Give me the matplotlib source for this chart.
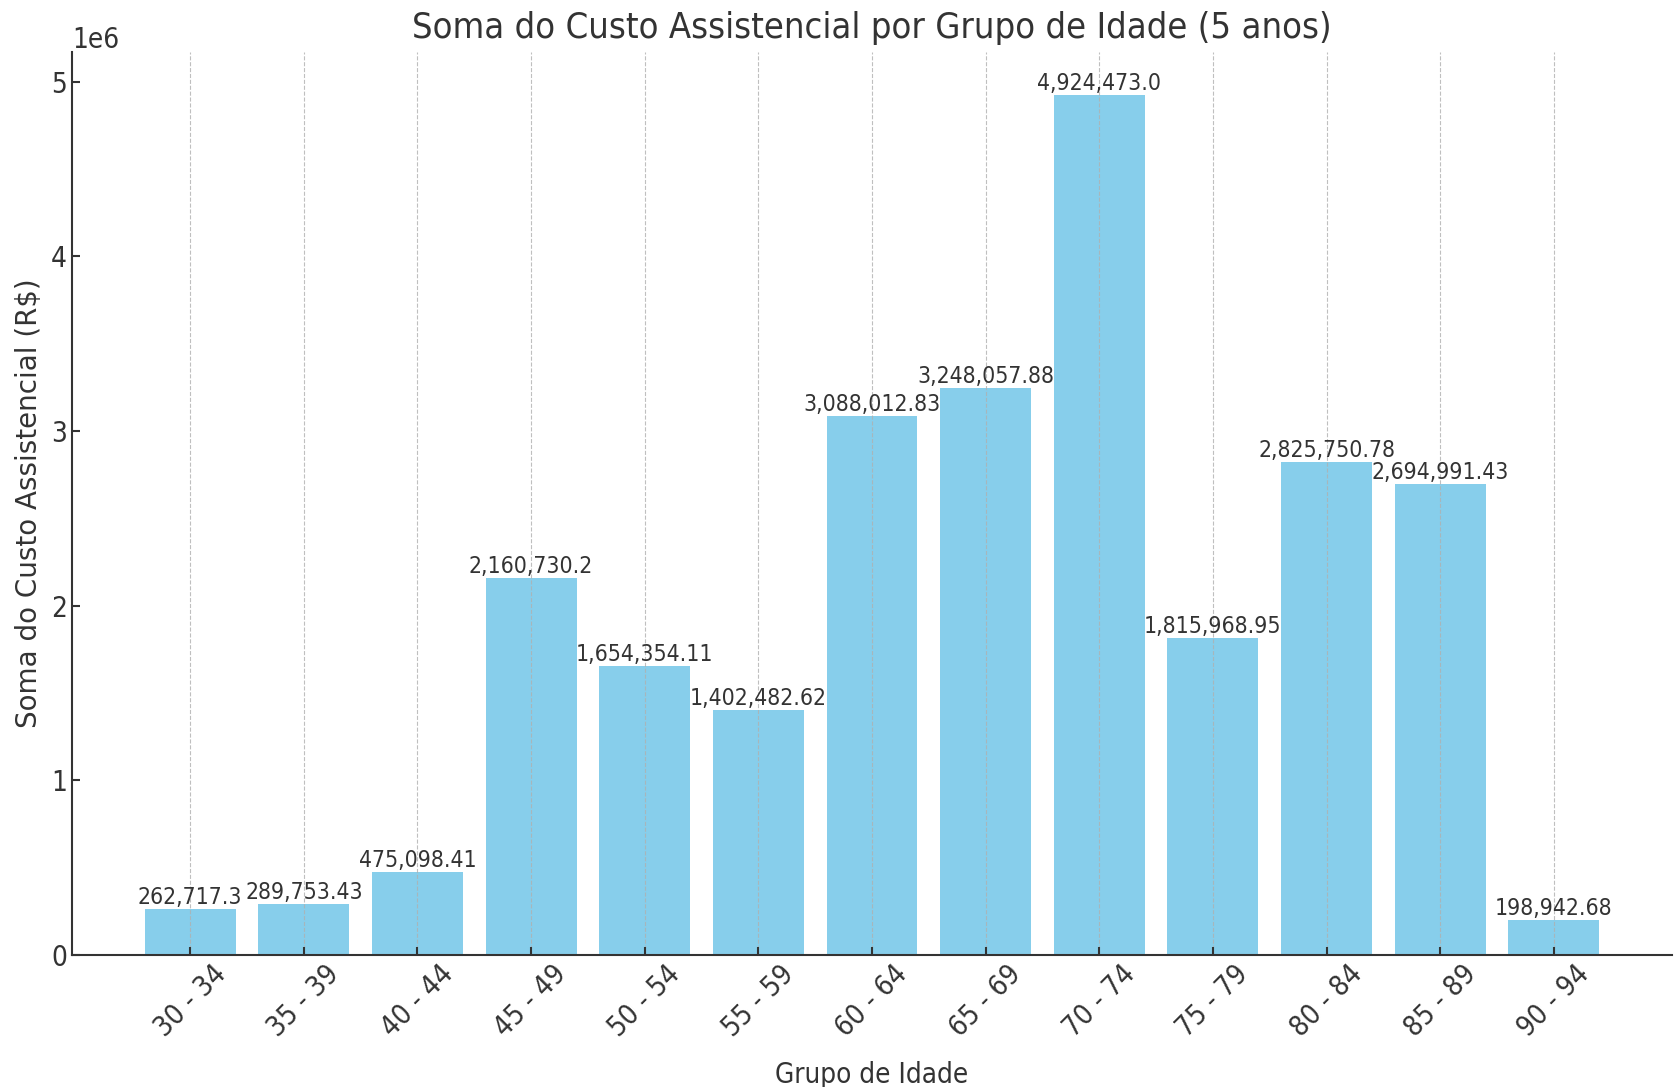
import matplotlib
matplotlib.use("Agg")
import matplotlib.pyplot as plt

# age groups and summed cost (R$)
grupos = ["30 - 34", "35 - 39", "40 - 44", "45 - 49", "50 - 54", "55 - 59",
          "60 - 64", "65 - 69", "70 - 74", "75 - 79", "80 - 84", "85 - 89",
          "90 - 94"]
custos = [262717.3, 289753.43, 475098.41, 2160730.2, 1654354.11, 1402482.62,
          3088012.83, 3248057.88, 4924473.0, 1815968.95, 2825750.78,
          2694991.43, 198942.68]

plt.rcParams["font.family"] = ["DejaVu Sans"]
plt.rcParams["font.stretch"] = "condensed"
plt.rcParams["text.color"] = "#333333"
plt.rcParams["axes.labelcolor"] = "#333333"
plt.rcParams["xtick.color"] = "#333333"
plt.rcParams["ytick.color"] = "#333333"
plt.rcParams["axes.edgecolor"] = "#333333"

fig = plt.figure(figsize=(16.79, 10.87), dpi=100)
ax = fig.add_axes([0.0429, 0.1214, 0.9529, 0.8308])

bars = ax.bar(grupos, custos, color="skyblue", width=0.8)
for b, v in zip(bars, custos):
    ax.text(b.get_x() + b.get_width() / 2, b.get_height(), f"{v:,}",
            ha="center", va="bottom", fontsize=16.5)

ax.set_title("Soma do Custo Assistencial por Grupo de Idade (5 anos)",
             fontsize=26, pad=10)
ax.set_xlabel("Grupo de Idade", fontsize=20, labelpad=13)
ax.set_ylabel("Soma do Custo Assistencial (R$)", fontsize=20,
              fontstretch="normal", labelpad=6)

ax.tick_params(axis="both", direction="in", length=6, width=1.5, labelsize=20)
plt.setp(ax.get_xticklabels(), rotation=45, ha="center")
ax.yaxis.get_offset_text().set_fontsize(20)

ax.grid(axis="x", linestyle="--", color="#b0b0b0", alpha=0.8)
ax.spines["top"].set_visible(False)
ax.spines["right"].set_visible(False)
ax.spines["left"].set_linewidth(1.5)
ax.spines["bottom"].set_linewidth(1.5)

fig.savefig("out.png", dpi=100)
